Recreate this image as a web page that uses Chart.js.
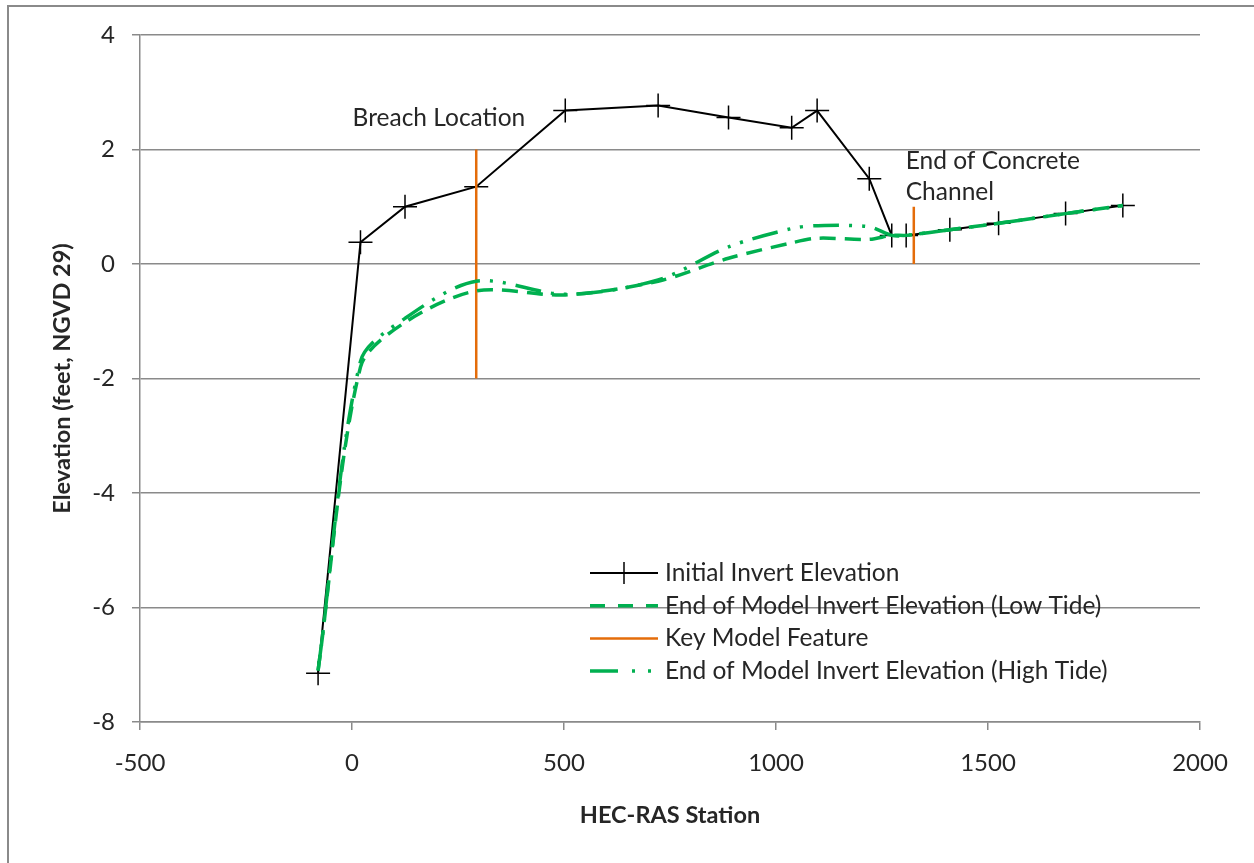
<!doctype html>
<html>

<head>
	<title>Invert Elevation Profile</title>
	<script src="https://cdn.jsdelivr.net/npm/chart.js@4/dist/chart.umd.min.js"></script>
	<style>
		body { margin: 0; background: #fff; }
		#frame { position: absolute; left: 7px; top: 5px; width: 1400px; height: 1000px; border: 2px solid #8a8a8a; pointer-events: none; }
		#holder { position: absolute; left: 0; top: 0; }
	</style>
</head>

<body>
	<div id="holder">
		<canvas id="profile" width="1254" height="863"></canvas>
	</div>
	<div id="frame"></div>
	<script>
		// stations shared by the three profiles (ft)
		const stations = [-80, 20, 125, 293, 503, 722, 888, 1037, 1097, 1220, 1273, 1307, 1410, 1525, 1683, 1818];
		const initialInvert = [-7.15, 0.38, 1.0, 1.35, 2.68, 2.77, 2.56, 2.38, 2.68, 1.49, 0.5, 0.5, 0.6, 0.71, 0.88, 1.02];
		const lowTideInvert = [-7.1, -1.8, -1.02, -0.47, -0.54, -0.3, 0.1, 0.37, 0.45, 0.43, 0.5, 0.5, 0.6, 0.71, 0.88, 1.02];
		const highTideInvert = [-7.1, -1.7, -0.95, -0.3, -0.53, -0.28, 0.3, 0.62, 0.67, 0.65, 0.5, 0.5, 0.6, 0.71, 0.88, 1.02];

		// key features: breach location and end of concrete channel
		const featureX = [293, 293, 810, 1325, 1325];
		const featureY = [-2, 2, null, 0, 1];

		const noteText = ['Breach Location', 'End of Concrete', 'Channel'];
		const noteX = [205, 1306, 1306];
		const noteY = [2.55, 1.8, 1.26];
		const noteAlign = ['center', 'left', 'left'];

		const yTicks = [-8, -6, -4, -2, 0, 2, 4];
		const xTicks = [-500, 0, 500, 1000, 1500, 2000];

		const FONT = 'Lato, "Open Sans", sans-serif';
		const TEXT = '#262626';
		const GRID = '#8a8a8a';

		const pairs = (xs, ys) => xs.map((x, i) => ({x: x, y: ys[i]}));

		// Notes on the plot and the legend inside the plot area
		const overlay = {
			id: 'overlay',
			afterDraw(chart) {
				const ctx = chart.ctx;
				const xs = chart.scales.x;
				const ys = chart.scales.y;
				ctx.save();
				ctx.fillStyle = TEXT;
				ctx.font = '24.5px ' + FONT;
				ctx.textBaseline = 'middle';
				noteText.forEach((t, i) => {
					ctx.textAlign = noteAlign[i];
					ctx.fillText(t, xs.getPixelForValue(noteX[i]), ys.getPixelForValue(noteY[i]));
				});

				// legend
				const left = 590, right = 658, top = 573, rowH = 32.7;
				ctx.textAlign = 'left';
				chart.data.datasets.forEach((ds, i) => {
					const y = top + i * rowH;
					ctx.save();
					ctx.strokeStyle = ds.borderColor;
					ctx.lineWidth = ds.borderWidth;
					ctx.setLineDash(ds.legendDash || []);
					ctx.beginPath();
					ctx.moveTo(left, y);
					ctx.lineTo(right, y);
					ctx.stroke();
					if (ds.pointStyle === 'cross') {
						ctx.setLineDash([]);
						ctx.lineWidth = 1.5;
						ctx.beginPath();
						ctx.moveTo((left + right) / 2, y - 11);
						ctx.lineTo((left + right) / 2, y + 11);
						ctx.stroke();
					}
					ctx.restore();
					ctx.fillText(ds.label, right + 7, y);
				});
				ctx.restore();
			}
		};

		const config = {
			type: 'line',
			data: {
				datasets: [{
					label: 'Initial Invert Elevation',
					data: pairs(stations, initialInvert),
					borderColor: '#000000',
					borderWidth: 2,
					pointStyle: 'cross',
					pointRadius: 12,
					pointBorderWidth: 1.5,
					pointBorderColor: '#000000',
					tension: 0,
					order: 3
				}, {
					label: 'End of Model Invert Elevation (Low Tide)',
					data: pairs(stations, lowTideInvert),
					borderColor: '#00b050',
					borderWidth: 3.5,
					borderDash: [16, 9],
					legendDash: [15, 13],
					pointRadius: 0,
					tension: 0.3,
					order: 1
				}, {
					label: 'Key Model Feature',
					data: pairs(featureX, featureY),
					borderColor: '#e46c0a',
					borderWidth: 2.5,
					pointRadius: 0,
					spanGaps: false,
					order: 2
				}, {
					label: 'End of Model Invert Elevation (High Tide)',
					data: pairs(stations, highTideInvert),
					borderColor: '#00b050',
					borderWidth: 3.5,
					borderDash: [26, 10, 3, 10, 3, 10],
					legendDash: [28, 14, 3, 13, 3, 20],
					pointRadius: 0,
					tension: 0.3,
					order: 0
				}]
			},
			options: {
				responsive: false,
				animation: false,
				layout: {padding: {left: 0, top: 35, right: 54, bottom: 0}},
				plugins: {
					legend: {display: false},
					tooltip: {enabled: false}
				},
				scales: {
					x: {
						type: 'linear',
						min: -500,
						max: 2000,
						afterBuildTicks(scale) {
							scale.ticks = xTicks.map(v => ({value: v}));
						},
						afterFit(scale) {
							scale.height = 141;
						},
						grid: {drawOnChartArea: false, drawTicks: true, tickLength: 8, color: GRID, lineWidth: 1.5},
						border: {color: GRID, width: 1.5},
						ticks: {
							color: TEXT,
							padding: 19,
							maxRotation: 0,
							font: {family: FONT, size: 24},
							callback: v => String(v)
						},
						title: {
							display: true,
							text: 'HEC-RAS Station',
							color: TEXT,
							padding: {top: 0, bottom: 33},
							font: {family: FONT, size: 23.5, weight: 'bold'}
						}
					},
					y: {
						type: 'linear',
						min: -8,
						max: 4,
						afterBuildTicks(scale) {
							scale.ticks = yTicks.map(v => ({value: v}));
						},
						afterFit(scale) {
							scale.width = 140;
						},
						grid: {drawTicks: true, tickLength: 8, color: GRID, lineWidth: 1.5},
						border: {color: GRID, width: 1.5},
						ticks: {color: TEXT, padding: 17, font: {family: FONT, size: 24}, callback: v => String(v)},
						title: {
							display: true,
							text: 'Elevation (feet, NGVD 29)',
							color: TEXT,
							padding: {top: 48, bottom: 0},
							font: {family: FONT, size: 23.5, weight: 'bold'}
						}
					}
				}
			},
			plugins: [overlay]
		};

		window.onload = function() {
			const ctx = document.getElementById('profile').getContext('2d');
			window.profileChart = new Chart(ctx, config);
		};
	</script>
</body>

</html>
